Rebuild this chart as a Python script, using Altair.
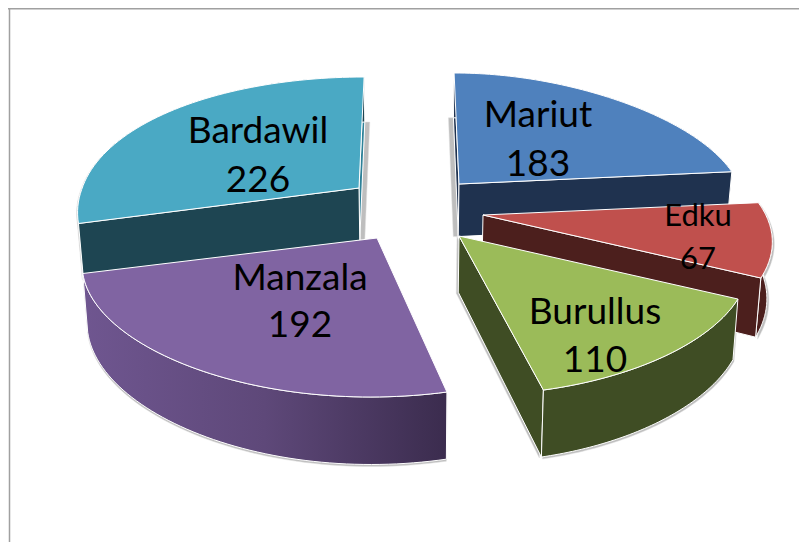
import math
import altair as alt
import pandas as pd

# Data
categories = ["Mariut", "Edku", "Burullus", "Manzala", "Bardawil"]
values = [183, 67, 110, 192, 226]

# Styles and layout (page pixels)
top_colors = ["#4F81BD", "#C0504D", "#9BBB59", "#8064A2", "#4AA9C4"]
wall_colors = ["#1F324F", "#4C1F1D", "#3F4D24", "#4F3D68", "#1E4552"]
apexes = [(459, 184), (483, 215), (459, 236), (377, 238), (359, 188)]
radius_scale = [1.0, 1.01, 1.01, 1.03, 1.0]
label_font = "Lato"
label_sizes = [37, 31, 37, 37, 37]
label_centres = [(538, 116, 165), (698, 217, 260), (595, 313, 361), (300, 279, 326), (258, 132, 181)]

PAGE = 8
CX = 410
W, H = 791, 534
total = sum(values)


def rim(i, deg):
    apex = apexes[i]
    t = math.radians(deg)
    d = -math.cos(t)
    k = 0.2 if d > 0 else 0.1
    if i == 1:
        k = 0.1
    if i == 4:
        rf = (281 + 42 * d) * 0.985
    else:
        rf = (280 + 58 * d - 18 * d * d) * radius_scale[i]
    return (apex[0] + math.sin(t) * rf + (apex[0] - CX) * k * d,
            apex[1] + d * (135 + 24 * d))


def down(p):
    return (CX + (p[0] - CX) * 0.985, p[1] + 53 + 0.07 * (p[1] - 190))


def arc(i, a0, a1, n=60):
    return [rim(i, a0 + (a1 - a0) * j / n) for j in range(n + 1)]


def shape(points, shift=(0, 0)):
    ring = [[p[0] - PAGE + shift[0], p[1] - PAGE + shift[1]] for p in points]
    ring.append(ring[0])
    return {"type": "Feature", "properties": {}, "geometry": {"type": "Polygon", "coordinates": [ring]}}


def face(points, fill, stroke="#FFFFFF", sw=1.0, opacity=1.0, shift=(0, 0)):
    return alt.Chart(alt.Data(values=[shape(points, shift)])).mark_geoshape(
        fill=fill, stroke=stroke, strokeWidth=sw, opacity=opacity)


# Angles follow the values, clockwise from twelve o'clock
spans = []
a = 0.0
for v in values:
    spans.append((a, a + v / total * 360))
    a += v / total * 360


def rim_wall(i):
    p = arc(i, *spans[i])
    return p + [down(q) for q in reversed(p)]


def radial_wall(i, deg):
    e = rim(i, deg)
    return [apexes[i], e, down(e), down(apexes[i])]


def side_strip(i, deg, w):
    e, b = down(rim(i, deg)), down(apexes[i])
    return [e, b, (b[0] + w, b[1]), (e[0] + w, e[1])]


MAR, EDK, BUR, MAN, BAR = range(5)
gray = "#707070"
layers = []

# soft shadows
for pts, sh in [
    (side_strip(BAR, spans[BAR][1], 5), (0, 0)),
    (side_strip(MAR, spans[MAR][0], -5), (0, 0)),
    (rim_wall(MAN), (0, 2)),
    (rim_wall(BUR), (1, 2)),
    (radial_wall(BUR, spans[BUR][1]), (-2, 1)),
    (rim_wall(EDK), (2, 2)),
    (rim_wall(BAR), (-1, 1)),
]:
    layers.append(face(pts, gray, stroke="#BDBDBD", sw=0.5, opacity=0.45, shift=sh))

# back slices
layers.append(face(radial_wall(MAR, spans[MAR][0]), wall_colors[MAR]))
layers.append(face(rim_wall(MAR), wall_colors[MAR]))
layers.append(face(radial_wall(MAR, spans[MAR][1]), wall_colors[MAR]))
layers.append(face([apexes[MAR]] + arc(MAR, *spans[MAR]), top_colors[MAR]))

layers.append(face(radial_wall(BAR, spans[BAR][1]), "#2E8198"))
layers.append(face(rim_wall(BAR), wall_colors[BAR]))
layers.append(face(radial_wall(BAR, spans[BAR][0]), wall_colors[BAR]))
layers.append(face([apexes[BAR]] + arc(BAR, *spans[BAR]), top_colors[BAR]))

# Edku
layers.append(face(rim_wall(EDK), wall_colors[EDK]))
layers.append(face(radial_wall(EDK, spans[EDK][1]), wall_colors[EDK]))
layers.append(face([apexes[EDK]] + arc(EDK, *spans[EDK]), top_colors[EDK]))

# Manzala
manzala_gradient = alt.Gradient(
    gradient="linear", x1=0, x2=1, y1=0, y2=0,
    stops=[alt.GradientStop(offset=0, color="#6F5690"),
           alt.GradientStop(offset=0.5, color="#5E4879"),
           alt.GradientStop(offset=1, color="#3B2C4E")])
layers.append(face(rim_wall(MAN), manzala_gradient))
layers.append(face([apexes[MAN]] + arc(MAN, *spans[MAN]), top_colors[MAN]))

# Burullus
layers.append(face(radial_wall(BUR, spans[BUR][1]), wall_colors[BUR]))
layers.append(face(rim_wall(BUR), wall_colors[BUR]))
layers.append(face([apexes[BUR]] + arc(BUR, *spans[BUR]), top_colors[BUR]))

# labels
for name, val, size, (lx, y1, y2) in zip(categories, values, label_sizes, label_centres):
    for txt, yy in ((name, y1), (str(val), y2)):
        layers.append(
            alt.Chart(pd.DataFrame({"label": [txt]})).mark_text(
                font=label_font, fontSize=size, color="#000000", baseline="middle", align="center"
            ).encode(text="label:N", x=alt.value(lx - PAGE), y=alt.value(yy - PAGE))
        )

# frame
frame_df = pd.DataFrame({"k": [0]})
layers.append(alt.Chart(frame_df).mark_rule(color="#A0A0A0", strokeWidth=1.5).encode(
    x=alt.value(1.5), y=alt.value(0), y2=alt.value(H)))
layers.append(alt.Chart(frame_df).mark_rule(color="#A0A0A0", strokeWidth=1.5).encode(
    x=alt.value(0), x2=alt.value(W), y=alt.value(0.75)))

chart = alt.layer(*layers).project(type="identity", scale=1, translate=[0, 0]).properties(
    width=W, height=H, padding=0, autosize=alt.AutoSizeParams(type="none"),
    background="#FFFFFF",
).configure_view(stroke=None)

chart.save("out.html", embed_options={"renderer": "svg", "actions": False})
